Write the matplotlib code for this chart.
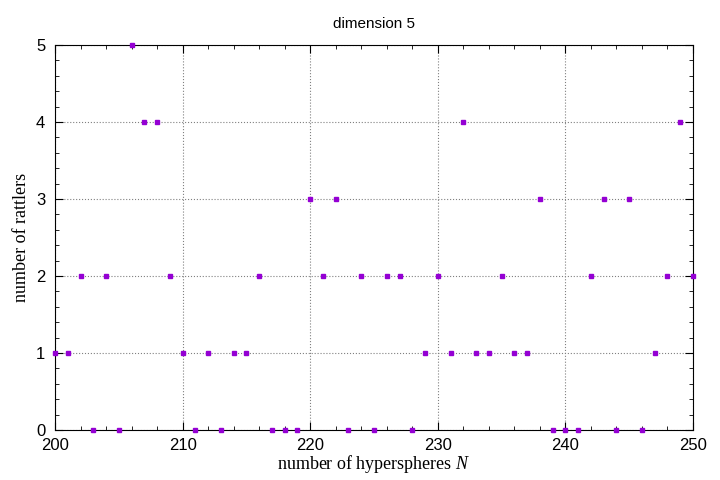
import matplotlib
matplotlib.use("Agg")
import matplotlib.pyplot as plt
from matplotlib.ticker import MultipleLocator

plt.rcParams["mathtext.fontset"] = "custom"
plt.rcParams["mathtext.it"] = "Liberation Serif:italic"
plt.rcParams["mathtext.rm"] = "Liberation Serif"

n_spheres = list(range(200, 251))
rattlers = [1, 1, 2, 0, 2, 0, 5, 4, 4, 2,
            1, 0, 1, 0, 1, 1, 2, 0, 0, 0,
            3, 2, 3, 0, 2, 0, 2, 2, 0, 1,
            2, 1, 4, 1, 1, 2, 1, 1, 3, 0,
            0, 0, 2, 3, 0, 3, 0, 1, 2, 4,
            2]

fig = plt.figure(figsize=(7.2, 4.8), dpi=100)
ax = fig.add_axes([55/720, 50/480, 638/720, 385/480])
ax.plot(n_spheres, rattlers, linestyle="none", marker="s", markersize=3.5,
        color="#9400d3", clip_on=False, zorder=3)
ax.set_xlim(200, 250)
ax.set_ylim(0, 5)
ax.xaxis.set_major_locator(MultipleLocator(10))
ax.xaxis.set_minor_locator(MultipleLocator(2))
ax.yaxis.set_major_locator(MultipleLocator(1))
ax.yaxis.set_minor_locator(MultipleLocator(0.2))
ax.tick_params(which="both", direction="in", top=True, right=True, labelsize=12)
ax.tick_params(which="major", length=6)
ax.tick_params(which="minor", length=3)
ax.tick_params(axis="x", pad=6)
ax.tick_params(axis="y", pad=7)
for lab in ax.get_xticklabels() + ax.get_yticklabels():
    lab.set_fontfamily("Liberation Sans")
ax.grid(True, which="major", linestyle=":", color="#808080", linewidth=0.8)
ax.set_xlabel("number of hyperspheres $N$", fontfamily="Liberation Serif", fontsize=13, labelpad=0)
ax.set_ylabel("number of rattlers", fontfamily="Liberation Serif", fontsize=13)
ax.set_title("dimension 5", fontfamily="Liberation Sans", fontsize=11, pad=12)
fig.savefig("out.png", dpi=100)
